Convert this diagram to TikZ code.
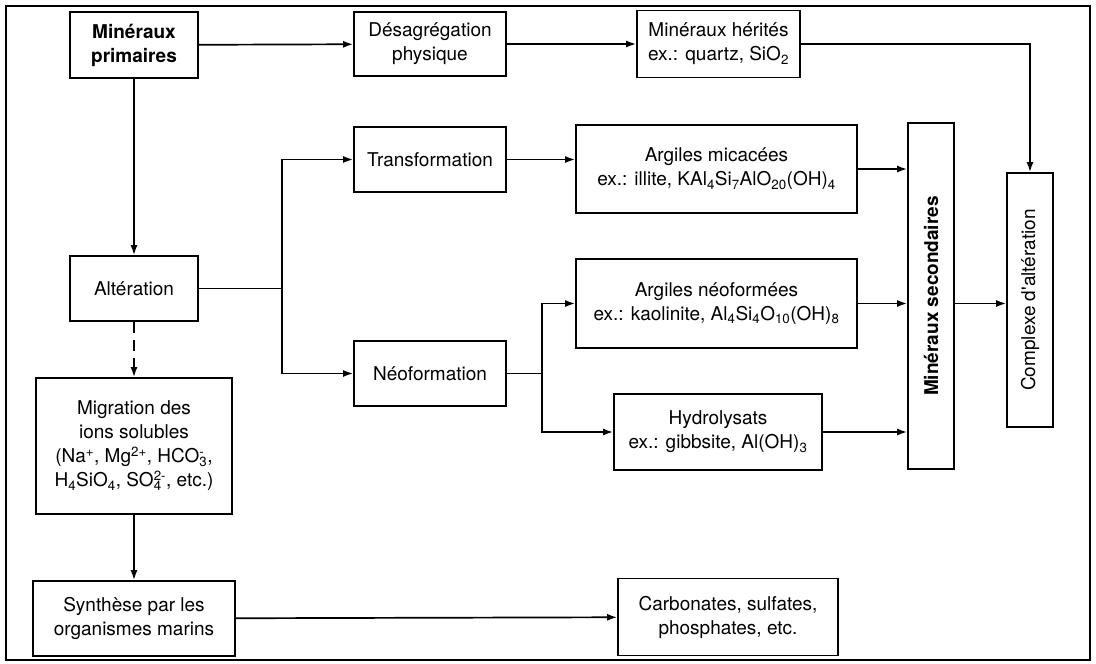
\documentclass[tikz,border=0pt]{standalone}
\usepackage{fontspec}
\setmainfont{TeX Gyre Heros}
\usepackage{tikz}
\usetikzlibrary{positioning,arrows.meta,calc}

\newcommand{\ionsub}[2]{\setbox0=\hbox{\textsubscript{#1}}\setbox2=\hbox{\textsuperscript{#2}}%
  \ifdim\wd0>\wd2 \rlap{\box2}\box0\else\rlap{\box0}\box2\fi}

\begin{document}
\begin{tikzpicture}[x=1pt,y=-1pt,line width=1.7pt,
        >={Latex[length=10pt,width=7pt]},
        every node/.style={font=\fontsize{19}{24}\selectfont},
        box/.style={draw,rectangle,inner sep=0pt,align=center},
        vbox/.style={box,rotate=90}]
      \useasboundingbox (0,0) rectangle (1096,664);
      \draw[line width=2.8pt] (6,6) rectangle (1090,660);
      %% first column
      \node[box,minimum width=128,minimum height=66,font=\fontsize{19}{24}\selectfont\bfseries]
        (prim) at (134,45) {Minéraux\\primaires};
      \node[box,minimum width=128,minimum height=65] (alter) at (134,288.5) {Altération};
      \node[box,minimum width=196,minimum height=136] (migr) at (134,446)
        {Migration des\\ions solubles\\(Na\textsuperscript{+}, Mg\textsuperscript{2+}, HCO\ionsub{3}{-},\\H\textsubscript{4}SiO\textsubscript{4}, SO\ionsub{4}{2-}, etc.)};
      \node[box,minimum width=202,minimum height=75] (synth) at (134,618.5)
        {Synthèse par les\\organismes marins};
      %% processes
      \node[box,minimum width=152,minimum height=64] (desag) at (430,44) {Désagrégation\\physique};
      \node[box,minimum width=152,minimum height=65] (transf) at (430,159.5) {Transformation};
      \node[box,minimum width=152,minimum height=65] (neof) at (430,373.5) {Néoformation};
      %% products
      \node[box,minimum width=163,minimum height=67] (herit) at (718.5,44)
        {Minéraux hérités\\ex.: quartz, SiO\textsubscript{2}};
      \node[box,minimum width=281,minimum height=88] (micac) at (716.5,169)
        {Argiles micacées\\ex.: illite, KAl\textsubscript{4}Si\textsubscript{7}AlO\textsubscript{20}(OH)\textsubscript{4}};
      \node[box,minimum width=281,minimum height=89] (argneo) at (716.5,303.5)
        {Argiles néoformées\\ex.: kaolinite, Al\textsubscript{4}Si\textsubscript{4}O\textsubscript{10}(OH)\textsubscript{8}};
      \node[box,minimum width=208,minimum height=76] (hydro) at (718,432)
        {Hydrolysats\\ex.: gibbsite, Al(OH)\textsubscript{3}};
      \node[box,minimum width=220,minimum height=77] (carbo) at (728,617)
        {Carbonates, sulfates,\\phosphates, etc.};
      \node[vbox,minimum width=346,minimum height=46,font=\fontsize{19}{24}\selectfont\bfseries]
        (minsec) at (931,296) {Minéraux secondaires};
      \node[vbox,minimum width=254,minimum height=46] (complexe) at (1030,300)
        {Complexe d\textquotesingle altération};
      %% branch points
      \coordinate (split1) at (282,288.5);
      \coordinate (split2) at (542,373.5);
      \path[->] (prim) edge (desag)
      edge (alter)
      (desag) edge (herit)
      (migr) edge (synth)
      (synth) edge (carbo);
      \draw[->,dash pattern=on 11pt off 7pt] (alter) -- (migr);
      \draw (alter) -- (split1);
      \draw[->] (split1) |- (transf);
      \draw[->] (split1) |- (neof);
      \draw (neof) -- (split2);
      \draw[->] (split2) |- (argneo);
      \draw[->] (split2) |- (hydro);
      \draw[->] (transf.east) -- (transf.east -| micac.west);
      \draw[->] (micac.east) -- (micac.east -| minsec.north);
      \draw[->] (argneo.east) -- (argneo.east -| minsec.north);
      \draw[->] (hydro.east) -- (hydro.east -| minsec.north);
      \draw[->] (argneo.east -| minsec.south) -- (argneo.east -| complexe.north);
      \draw[->] (herit.east) -| (complexe.east);
    \end{tikzpicture}
\end{document}
